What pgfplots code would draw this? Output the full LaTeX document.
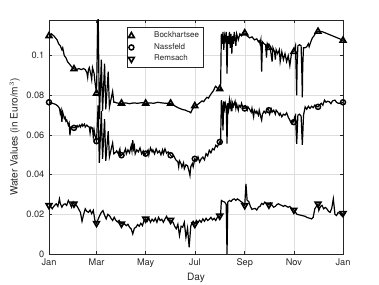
\documentclass[border=0pt]{standalone}
\usepackage{fontspec}
\setmainfont{TeX Gyre Heros}
\usepackage{pgfplots}
\pgfplotsset{compat=1.18}
\definecolor{axc}{RGB}{38,38,38}
\begin{document}
\begin{tikzpicture}
\useasboundingbox (-36.75pt,-23.25pt) rectangle (247.5pt,190.5pt);
\begin{axis}[
  at={(0pt,0pt)}, anchor=south west,
  scale only axis, width=220.5pt, height=175.5pt,
  xmin=0, xmax=365, ymin=0, ymax=0.118,
  xtick={0,59,120,181,243,304,365},
  xticklabels={Jan,Mar,May,Jul,Sep,Nov,Jan},
  ytick={0,0.02,0.04,0.06,0.08,0.1},
  scaled y ticks=false,
  yticklabel style={/pgf/number format/fixed,/pgf/number format/precision=2},
  /pgf/number format/assume math mode=true,
  tick label style={font=\fontsize{6.9}{8}\selectfont, text=axc},
  label style={font=\fontsize{7.6}{9}\selectfont, text=axc},
  xlabel={Day}, ylabel={Water Values (in Euro/m$^3$)},
  xlabel style={yshift=3pt}, ylabel style={yshift=-2pt},
  grid=major, major grid style={black!13, line width=0.3pt},
  tick align=inside, major tick length=2.2pt,
  axis line style={axc, line width=0.4pt},
  every tick/.style={axc, line width=0.4pt},
  legend style={at={(0.265,0.97)}, anchor=north west, font=\fontsize{6}{6.5}\selectfont,
    draw=axc, line width=0.4pt, inner xsep=1pt, inner ysep=1.5pt, row sep=-1.2pt,
    cells={anchor=west}, text=axc},
  legend image code/.code={\node[draw=none, fill=none, inner sep=0pt, minimum width=0.48cm, minimum height=0.1cm] at (0.24cm,0cm) {};
    \path[#1] plot[only marks] coordinates {(0.21cm,0cm)};},
  clip=true,
]
% Bockhartsee
\addplot[black, line width=0.9pt, forget plot] coordinates {
(0,0.110)(3,0.111)(6,0.110)(8,0.109)(10,0.108)(12,0.106)(14,0.105)(16,0.103)(17,0.104)(19,0.100)
(21,0.099)(23,0.097)(25,0.096)(27,0.095)(29,0.094)(31,0.0933)(34,0.093)(37,0.0935)(40,0.093)(43,0.0935)
(45,0.093)(47,0.0915)(48,0.089)(49,0.093)(50,0.094)(52,0.0905)(53,0.088)(54,0.094)(56,0.091)(57,0.087)
(59,0.081)(61,0.125)(62.5,0.068)(65,0.098)(66.5,0.072)(69,0.096)(70.5,0.073)(73.5,0.092)(75,0.074)
(79,0.082)(80.5,0.0765)(82,0.0765)
(84,0.0762)(87,0.076)(90,0.0760)(95,0.0762)(100,0.0758)(105,0.0762)(110,0.076)(115,0.0763)(120,0.0760)
(125,0.0762)(130,0.076)(135,0.0765)(140,0.0762)(145,0.076)(151,0.0760)(154,0.0752)(157,0.0745)(160,0.0738)
(163,0.0733)(166,0.0728)(169,0.0726)(172,0.072)(174,0.0718)(176,0.0712)(178,0.0730)(181,0.0747)(184,0.0752)
(187,0.0762)(190,0.0772)(192,0.0768)(194,0.078)(196,0.0790)(198,0.0786)(200,0.0800)(202,0.0812)(204,0.0822)
(206,0.0840)(207,0.0846)(209,0.0836)(211,0.0830)(212,0.0832)(213,0.0830)(214,0.111)(215,0.106)(216,0.112)
(217,0.103)(218,0.110)(219,0.108)(220,0.112)(221,0.091)(222,0.110)(223,0.106)(224,0.112)(225,0.104)
(226,0.111)(227,0.101)(228,0.110)(229,0.106)(230,0.112)(232,0.105)(233,0.111)(235,0.108)(237,0.111)
(239,0.110)(241,0.1115)(243,0.1114)(246,0.110)(249,0.109)(252,0.1095)(255,0.108)(258,0.1085)(260,0.107)
(261,0.1075)(262,0.106)(263,0.108)(264,0.092)(265,0.107)(267,0.106)(269,0.1055)(270,0.099)(271,0.106)
(273,0.104)(275,0.103)(277,0.097)(278,0.104)(280,0.102)(281,0.098)(282,0.103)(284,0.101)(286,0.103)
(287,0.097)(289,0.102)(291,0.098)(293,0.101)(295,0.097)(297,0.100)(299,0.095)(301,0.101)(302,0.102)
(304,0.102)(306,0.105)(307,0.090)(307.5,0.080)(308,0.095)(309,0.105)(311,0.1055)(313,0.105)(314,0.090)
(314.5,0.079)(315,0.095)(316,0.104)(318,0.104)(320,0.1045)(322,0.106)(323,0.1045)(325,0.107)(327,0.109)
(329,0.110)(331,0.1115)(334,0.1122)(337,0.1122)(340,0.112)(343,0.1115)(346,0.111)(349,0.1105)(352,0.110)
(355,0.1095)(358,0.109)(361,0.1085)(365,0.1077)
};
% Nassfeld
\addplot[black, line width=0.9pt, forget plot] coordinates {
(0,0.0765)(4,0.0760)(8,0.0755)(11,0.0746)(13,0.0735)(14,0.0709)(15,0.0725)(16,0.0666)(17,0.0715)(18,0.0700)
(19,0.0684)(20,0.0690)(21,0.0670)(22,0.0675)(24,0.0650)(25,0.0660)(26,0.0599)(27,0.0640)(29,0.0640)(31,0.0636)
(33,0.0640)(35,0.0648)(36,0.0640)(38,0.0650)(39,0.0640)(41,0.0655)(42,0.0645)(44,0.0655)(45,0.0640)(47,0.0650)
(48,0.0645)(50,0.0640)(51,0.0610)(52,0.0640)(54,0.0635)(55,0.0590)(56,0.0625)(57,0.0600)(59,0.0569)
(61,0.075)(62.5,0.046)(65,0.072)(66.5,0.048)(69,0.068)(70.5,0.047)(73.5,0.062)(75,0.049)(79,0.056)
(80.5,0.0505)(83,0.0514)
(84,0.0520)(86,0.0505)(88,0.0530)(89,0.0495)(90,0.0498)(93,0.0510)(95,0.0530)(96,0.0505)(98,0.0525)(100,0.0510)
(102,0.0545)(103,0.0520)(104,0.0574)(105,0.0530)(106,0.0545)(107,0.0505)(109,0.0525)(111,0.0515)(113,0.0535)
(115,0.0505)(117,0.0520)(119,0.0500)(120,0.0506)(123,0.0525)(124,0.0500)(126,0.0535)(128,0.0515)(129,0.0525)
(131,0.0505)(133,0.0530)(135,0.0510)(137,0.0520)(139,0.0500)(141,0.0525)(142,0.0505)(144,0.0530)(146,0.0508)
(148,0.0515)(150,0.0505)(151,0.0498)(153,0.0490)(155,0.0495)(157,0.0478)(158,0.0472)(160,0.0465)(161,0.0440)
(162,0.0470)(164,0.0455)(165,0.0438)(167,0.0460)(168,0.0430)(170,0.0450)(172,0.0445)(174,0.0415)(175,0.0396)
(176,0.0440)(178,0.0456)(179,0.0440)(181,0.0480)(183,0.0472)(185,0.0490)(187,0.0464)(189,0.0480)(191,0.0489)
(193,0.0475)(195,0.0506)(197,0.0495)(199,0.0523)(201,0.0510)(203,0.0531)(205,0.0525)(207,0.0548)(209,0.0540)
(211,0.0557)(212,0.0565)(213,0.0560)(214,0.0776)(215,0.0750)(216,0.0624)(217,0.0770)(218,0.0735)(219,0.0760)
(220,0.0745)(221,0.0557)(222,0.0760)(223,0.0730)(224,0.0775)(225,0.0740)(226,0.0765)(227,0.0720)(228,0.0760)
(229,0.0745)(231,0.0770)(232,0.0735)(233,0.0755)(235,0.0725)(236,0.0750)(238,0.0740)(239,0.0760)(241,0.0735)
(243,0.0734)(244,0.0745)(246,0.0725)(247,0.0742)(249,0.0730)(251,0.0715)(252,0.0735)(254,0.0692)(255,0.0725)
(257,0.0710)(258,0.0720)(260,0.0700)(261,0.0725)(263,0.0690)(264,0.0675)(265,0.0705)(267,0.0720)(269,0.0710)
(271,0.0734)(273,0.0725)(274,0.0705)(276,0.0730)(277,0.0715)(279,0.0725)(281,0.0705)(282,0.0725)(284,0.0715)
(286,0.0700)(287,0.0710)(289,0.0692)(291,0.0705)(293,0.0700)(295,0.0712)(297,0.0690)(299,0.0675)(301,0.0658)
(303,0.0672)(304,0.0665)(305,0.0692)(306,0.0700)(307.5,0.0555)(309,0.0700)(311,0.0705)(313,0.0695)(314.5,0.0550)
(316,0.0700)(318,0.0742)(320,0.0730)(322,0.0745)(324,0.0734)(326,0.0745)(328,0.0738)(330,0.0751)(332,0.0745)
(334,0.0742)(336,0.0752)(338,0.0760)(340,0.0750)(342,0.0776)(344,0.0765)(346,0.0770)(348,0.0768)(350,0.0758)
(352,0.0772)(355,0.0776)(357,0.0765)(359,0.0760)(362,0.0760)(365,0.0765)
};
% Remsach
\addplot[black, line width=0.9pt, forget plot] coordinates {
(0,0.0245)(2,0.0240)(4,0.0228)(5,0.0235)(7,0.0245)(9,0.0253)(11,0.0240)(13,0.0278)(14,0.0255)(16,0.0236)
(18,0.0250)(20,0.0253)(22,0.0245)(24,0.0270)(26,0.0255)(28,0.0236)(30,0.0262)(31,0.0253)(33,0.0250)(35,0.0240)
(37,0.0225)(39,0.0210)(41,0.0165)(43,0.0200)(45,0.0228)(47,0.0215)(49,0.0210)(51,0.0222)(53,0.0203)(55,0.0220)
(57,0.0169)(59,0.0155)(61,0.0175)(63,0.0194)(65,0.0210)(67,0.0219)(69,0.0195)(71,0.0177)(73,0.0200)(75,0.0194)
(77,0.0180)(79,0.0169)(81,0.0185)(83,0.0170)(85,0.0162)(87,0.0170)(89,0.0155)(90,0.0152)(92,0.0158)(94,0.0150)
(96,0.0143)(98,0.0150)(100,0.0135)(102,0.0127)(104,0.0101)(106,0.0130)(108,0.0135)(110,0.0148)(112,0.0140)
(114,0.0155)(116,0.0143)(118,0.0170)(120,0.0177)(122,0.0165)(124,0.0180)(126,0.0160)(128,0.0175)(130,0.0165)
(132,0.0180)(134,0.0160)(136,0.0185)(138,0.0169)(140,0.0175)(142,0.0160)(144,0.0177)(146,0.0190)(148,0.0170)
(151,0.0171)(152,0.0165)(154,0.0160)(156,0.0140)(158,0.0127)(160,0.0150)(162,0.0093)(164,0.0140)(166,0.0135)
(168,0.0160)(170,0.0084)(172,0.0130)(174,0.0034)(176,0.0140)(177,0.0152)(179,0.0165)(181,0.0150)(183,0.0169)
(185,0.0160)(187,0.0170)(189,0.0160)(191,0.0177)(193,0.0165)(195,0.0180)(197,0.0169)(199,0.0175)(201,0.0185)
(203,0.0172)(205,0.0180)(207,0.0169)(209,0.0185)(211,0.0185)(212,0.0192)(213,0.0194)(214,0.0270)(216,0.0265)
(218,0.0262)(220,0.0250)(221,0.0000)(222,0.0262)(224,0.0270)(226,0.0265)(228,0.0275)(230,0.0278)(232,0.0270)
(234,0.0278)(236,0.0272)(238,0.0265)(240,0.0260)(243,0.0245)(244.5,0.0354)(246,0.0270)(248,0.0265)(250,0.0240)
(252,0.0225)(254,0.0228)(256,0.0230)(258,0.0222)(260,0.0236)(262,0.0240)(264,0.0255)(266,0.0250)(268,0.0262)
(270,0.0253)(272,0.0250)(273,0.0248)(275,0.0258)(277,0.0245)(279,0.0236)(281,0.0240)(283,0.0250)(285,0.0253)
(287,0.0248)(289,0.0245)(291,0.0240)(293,0.0245)(295,0.0240)(297,0.0236)(299,0.0240)(301,0.0230)(303,0.0228)
(304,0.0222)(306,0.0210)(308,0.0200)(310,0.0198)(312,0.0196)(314,0.0194)(316,0.0192)(318,0.0190)(320,0.0185)
(322,0.0182)(324,0.0180)(326,0.0177)(328,0.0185)(330,0.0228)(332,0.0240)(334,0.0253)(335,0.0220)(337,0.0240)
(339,0.0245)(341,0.0228)(343,0.0235)(345,0.0228)(347,0.0215)(349,0.0210)(351,0.0230)(353,0.0278)(355,0.0200)
(357,0.0194)(359,0.0210)(361,0.0205)(363,0.0194)(365,0.0205)
};
% markers
\addplot[only marks, mark=triangle, mark size=2.5pt, black, line width=1.2pt] coordinates {
(0,0.110)(31,0.0933)(59,0.081)(90,0.0760)(120,0.0760)(151,0.0760)(181,0.0747)(212,0.0832)(243,0.1114)(273,0.104)(304,0.102)(334,0.1122)(365,0.1077)};
\addlegendentry{Bockhartsee}
\addplot[only marks, mark=o, mark size=1.9pt, black, line width=1.1pt] coordinates {
(0,0.0765)(31,0.0636)(59,0.0569)(90,0.0498)(120,0.0506)(151,0.0498)(181,0.0480)(212,0.0565)(243,0.0734)(273,0.0725)(304,0.0665)(334,0.0742)(365,0.0765)};
\addlegendentry{Nassfeld}
\addplot[only marks, mark=triangle, mark options={rotate=180}, mark size=2.5pt, black, line width=1.2pt] coordinates {
(0,0.0245)(31,0.0253)(59,0.0155)(90,0.0152)(120,0.0177)(151,0.0171)(181,0.0150)(212,0.0192)(243,0.0245)(273,0.0248)(304,0.0222)(334,0.0253)(365,0.0205)};
\addlegendentry{Remsach}
\end{axis}
\end{tikzpicture}
\end{document}
